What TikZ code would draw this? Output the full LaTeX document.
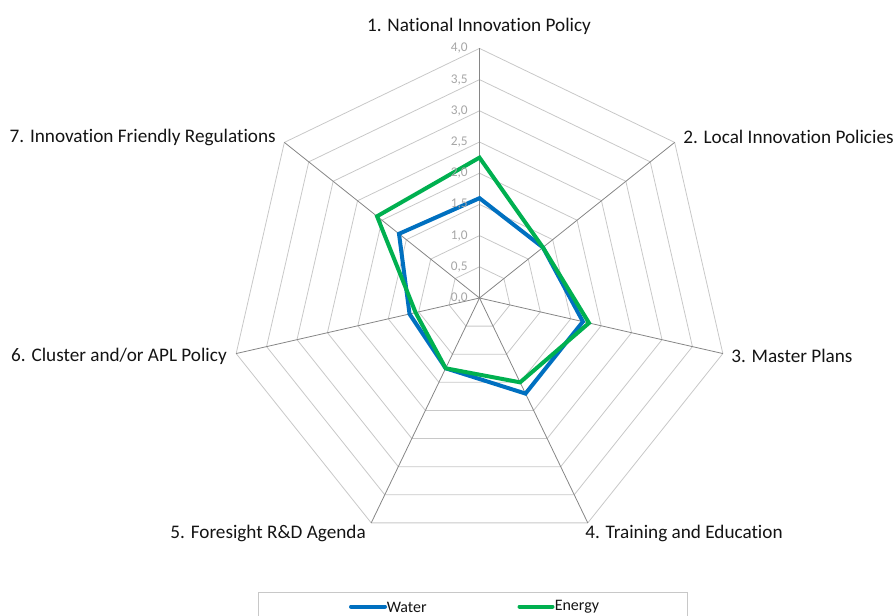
\documentclass[tikz,border=0pt]{standalone}
\usepackage{fontspec}
\setmainfont{Carlito}[Ligatures=NoCommon]
\usepackage{tikz}

\definecolor{waterblue}{RGB}{0,112,192}
\definecolor{energygreen}{RGB}{0,176,80}
\definecolor{ringgray}{RGB}{200,200,200}
\definecolor{spokegray}{RGB}{134,134,134}
\definecolor{tickgray}{RGB}{166,166,166}
\definecolor{labelblack}{RGB}{20,20,20}

\tikzset{
  ring/.style={draw=ringgray, line width=0.6pt},
  spoke/.style={draw=spokegray, line width=0.6pt},
  series/.style={line width=3pt},
  axislabel/.style={inner sep=0pt, text=labelblack, font=\fontsize{14.4}{17}\selectfont},
  ticklabel/.style={inner sep=0pt, anchor=east, text=tickgray, font=\fontsize{10}{12}\selectfont},
  legendtext/.style={inner sep=0pt, anchor=west, text=labelblack, font=\fontsize{12}{14}\selectfont}
}

\begin{document}
\begin{tikzpicture}[x=0.75pt,y=0.75pt,yscale=-1,xscale=1]
        \useasboundingbox (0,0) rectangle (893,615);

        \begin{scope}[shift={(479.5,298)}]
        %Shape: Polygon rings 0.5 ... 4.0
        \draw [ring] (-90:31.2) -- (-38.57:31.2) -- (12.86:31.2) -- (64.29:31.2) -- (115.71:31.2) -- (167.14:31.2) -- (218.57:31.2) -- cycle ;
        \draw [ring] (-90:62.4) -- (-38.57:62.4) -- (12.86:62.4) -- (64.29:62.4) -- (115.71:62.4) -- (167.14:62.4) -- (218.57:62.4) -- cycle ;
        \draw [ring] (-90:93.6) -- (-38.57:93.6) -- (12.86:93.6) -- (64.29:93.6) -- (115.71:93.6) -- (167.14:93.6) -- (218.57:93.6) -- cycle ;
        \draw [ring] (-90:124.8) -- (-38.57:124.8) -- (12.86:124.8) -- (64.29:124.8) -- (115.71:124.8) -- (167.14:124.8) -- (218.57:124.8) -- cycle ;
        \draw [ring] (-90:156) -- (-38.57:156) -- (12.86:156) -- (64.29:156) -- (115.71:156) -- (167.14:156) -- (218.57:156) -- cycle ;
        \draw [ring] (-90:187.2) -- (-38.57:187.2) -- (12.86:187.2) -- (64.29:187.2) -- (115.71:187.2) -- (167.14:187.2) -- (218.57:187.2) -- cycle ;
        \draw [ring] (-90:218.4) -- (-38.57:218.4) -- (12.86:218.4) -- (64.29:218.4) -- (115.71:218.4) -- (167.14:218.4) -- (218.57:218.4) -- cycle ;
        \draw [ring] (-90:249.6) -- (-38.57:249.6) -- (12.86:249.6) -- (64.29:249.6) -- (115.71:249.6) -- (167.14:249.6) -- (218.57:249.6) -- cycle ;

        %Straight Lines spokes
        \draw [spoke] (0,0) -- (-90:249.6) ;
        \draw [spoke] (0,0) -- (-38.57:249.6) ;
        \draw [spoke] (0,0) -- (12.86:249.6) ;
        \draw [spoke] (0,0) -- (64.29:249.6) ;
        \draw [spoke] (0,0) -- (115.71:249.6) ;
        \draw [spoke] (0,0) -- (167.14:249.6) ;
        \draw [spoke] (0,0) -- (218.57:249.6) ;

        %Shape: Polygon Water
        \draw [series, color=waterblue] (-90:99.84) -- (-38.57:81.12) -- (12.86:106.08) -- (64.29:106.08) -- (115.71:78) -- (167.14:71.76) -- (218.57:102.96) -- cycle ;
        %Shape: Polygon Energy
        \draw [series, color=energygreen] (-90:140.4) -- (-38.57:81.12) -- (12.86:112.32) -- (64.29:93.6) -- (115.71:78) -- (167.14:65.52) -- (218.57:131.04) -- cycle ;
        \end{scope}

        % Text Node
        \node [ticklabel] (t00) at (468,298) {0,0};
        \node [ticklabel] (t05) at (468,266.8) {0,5};
        \node [ticklabel] (t10) at (468,235.6) {1,0};
        \node [ticklabel] (t15) at (468,204.4) {1,5};
        \node [ticklabel] (t20) at (468,173.2) {2,0};
        \node [ticklabel] (t25) at (468,142) {2,5};
        \node [ticklabel] (t30) at (468,110.8) {3,0};
        \node [ticklabel] (t35) at (468,79.6) {3,5};
        \node [ticklabel] (t40) at (468,48.4) {4,0};

        % Text Node
        \node [axislabel] (lab1) at (479,26) {1. National Innovation Policy};
        % Text Node
        \node [axislabel, anchor=west] (lab2) at (683,137) {2. Local Innovation Policies};
        % Text Node
        \node [axislabel, anchor=west] (lab3) at (731,356) {3. Master Plans};
        % Text Node
        \node [axislabel, anchor=west] (lab4) at (585,533) {4. Training and Education};
        % Text Node
        \node [axislabel, anchor=east] (lab5) at (366,533) {5. Foresight R\&D Agenda};
        % Text Node
        \node [axislabel, anchor=east] (lab6) at (227,356) {6. Cluster and/or APL Policy};
        % Text Node
        \node [axislabel, anchor=east] (lab7) at (276,137) {7. Innovation Friendly Regulations};

        %Shape: Rectangle legend
        \draw [draw=ringgray, line width=0.75pt] (258.3,625) -- (258.3,592.3) -- (687.3,592.3) -- (687.3,625) ;
        \coordinate (wa) at (351,606.5);
        \coordinate (wb) at (385,606.5);
        \coordinate (ea) at (519.5,606.5);
        \coordinate (eb) at (552.5,606.5);
        \draw [series, color=waterblue, line cap=round] (wa) -- (wb) ;
        \node [legendtext] (legw) at (386.5,607) {Water};
        \draw [series, color=energygreen, line cap=round] (ea) -- (eb) ;
        \node [legendtext] (lege) at (554.5,607) {Energy};

\end{tikzpicture}
\end{document}
